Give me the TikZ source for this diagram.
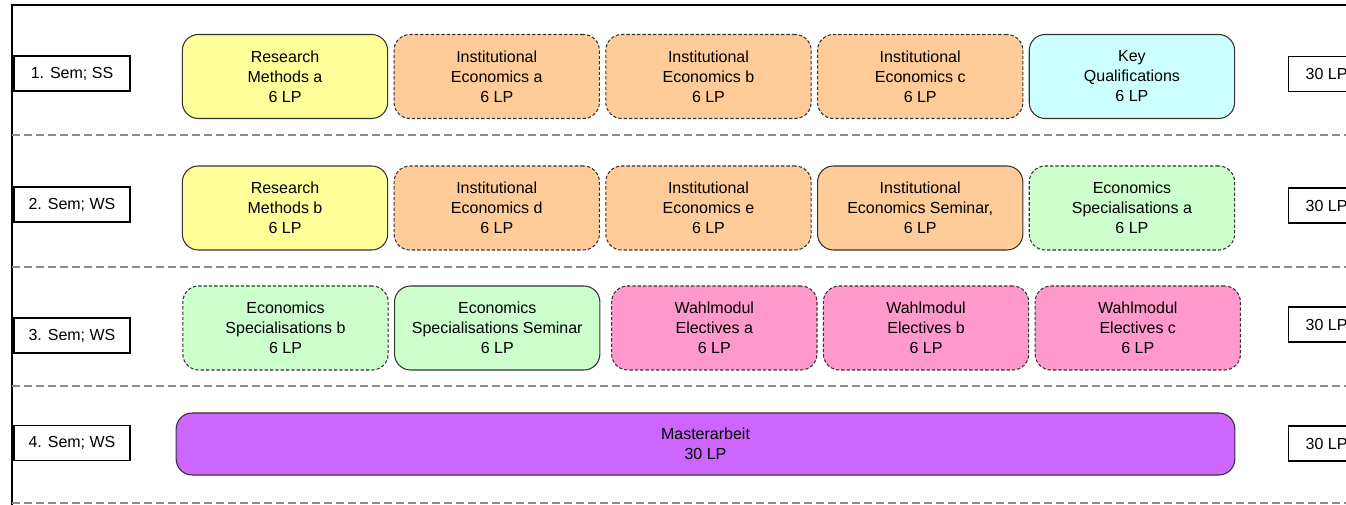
\documentclass[tikz,border=0pt]{standalone}
\usepackage{fontspec}
\setmainfont{Liberation Sans}
\usepackage{tikz}
\usetikzlibrary{positioning}

\definecolor{methods}{HTML}{FFFF99}
\definecolor{inst}{HTML}{FFCC99}
\definecolor{keyq}{HTML}{CCFFFF}
\definecolor{spec}{HTML}{CCFFCC}
\definecolor{elect}{HTML}{FF99CC}
\definecolor{thesis}{HTML}{CC66FF}

\begin{document}
\begin{tikzpicture}[x=0.75pt,y=-0.75pt,node distance=4pt,
        every node/.style={font=\fontsize{12}{15}\selectfont},
        module/.style={draw=black!80,line width=0.8pt,rounded corners=12pt,minimum width=154pt,minimum height=63pt,align=center,inner sep=2pt},
        optional/.style={module,dash pattern=on 2.5pt off 1.5pt},
        sembox/.style={draw,line width=0.8pt,minimum width=87pt,minimum height=26.25pt,inner sep=2pt},
        lpbox/.style={sembox,minimum width=57pt,anchor=west},
        sep/.style={draw=black!45,line width=0.8pt,dash pattern=on 6pt off 3pt}]
        \useasboundingbox (0,0) rectangle (1346,505);

        % frame and row separators
        \draw[line width=1pt] (1346,5) -- (12,5) -- (12,505);
        \foreach \y in {135,267,386,503}{
            \draw[sep] (12,\y) -- (1346,\y);
        }

        % semesters
        \node[sembox] (s1) at (72,73.5) {1. Sem; SS};
        \node[sembox] (s2) at (72,204.5) {2. Sem; WS};
        \node[sembox] (s3) at (72,335.5) {3. Sem; WS};
        \node[sembox] (s4) at (72,443) {4. Sem; WS};

        % 1. semester
        \node[module,fill=methods] (m11) at (285,76.5) {Research\\Methods a\\6 LP};
        \node[optional,fill=inst] (m12) [right=4pt of m11] {Institutional\\Economics a\\6 LP};
        \node[optional,fill=inst] (m13) [right=4pt of m12] {Institutional\\Economics b\\6 LP};
        \node[optional,fill=inst] (m14) [right=4pt of m13] {Institutional\\Economics c\\6 LP};
        \node[module,fill=keyq] (m15) [right=4pt of m14] {Key\\Qualifications\\6 LP};

        % 2. semester
        \node[module,fill=methods] (m21) at (285,208) {Research\\Methods b\\6 LP};
        \node[optional,fill=inst] (m22) [right=4pt of m21] {Institutional\\Economics d\\6 LP};
        \node[optional,fill=inst] (m23) [right=4pt of m22] {Institutional\\Economics e\\6 LP};
        \node[module,fill=inst] (m24) [right=4pt of m23] {Institutional\\Economics Seminar,\\6 LP};
        \node[optional,fill=spec] (m25) [right=4pt of m24] {Economics\\Specialisations a\\6 LP};

        % 3. semester
        \node[optional,fill=spec] (m31) at (285.5,328) {Economics\\Specialisations b\\6 LP};
        \node[module,fill=spec] (m32) [right=4pt of m31] {Economics\\Specialisations Seminar\\6 LP};
        \node[optional,fill=elect] (m33) [right=8pt of m32] {Wahlmodul\\Electives a\\6 LP};
        \node[optional,fill=elect] (m34) [right=4pt of m33] {Wahlmodul\\Electives b\\6 LP};
        \node[optional,fill=elect] (m35) [right=4pt of m34] {Wahlmodul\\Electives c\\6 LP};

        % 4. semester
        \node[module,fill=thesis,minimum width=794pt,minimum height=46.5pt] (ma) at (705.5,444) {Masterarbeit\\30 LP};

        % credits per semester
        \foreach \i/\y in {1/74,2/205.5,3/324.5,4/443.5}{
            \node[lpbox] (lp\i) at (1288,\y) {30 LP};
        }
    \end{tikzpicture}
\end{document}
